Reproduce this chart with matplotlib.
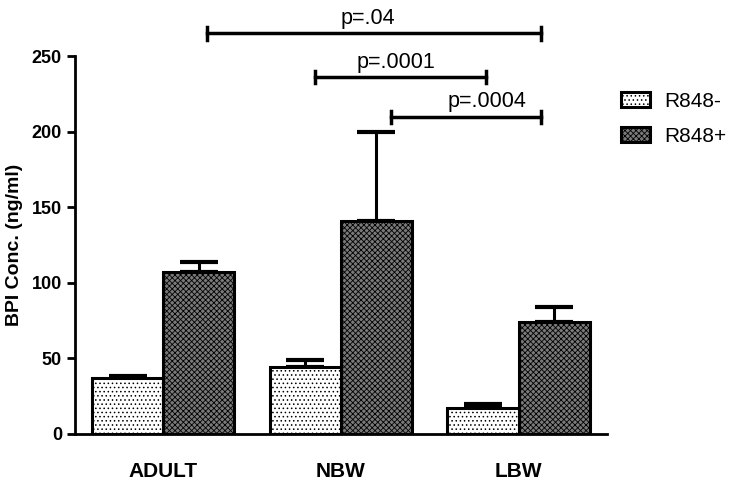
import numpy as np
import matplotlib
matplotlib.use("Agg")
import matplotlib.pyplot as plt

plt.rcParams['font.family'] = ['Liberation Sans', 'DejaVu Sans']
plt.rcParams['hatch.linewidth'] = 0.6

groups = ["ADULT", "NBW", "LBW"]
neg_vals = [37, 44, 17]
neg_err = [1.5, 5, 3]
pos_vals = [107, 141, 74]
pos_err = [7, 59, 10]
series = ["R848-", "R848+"]

# comparisons: (x start, x end, y, label x, label) in data units
comparisons = [(0.62, 5.31, 265, 2.88, "p=.04"),
               (2.13, 4.54, 236, 3.27, "p=.0001"),
               (3.21, 5.31, 210, 4.56, "p=.0004")]

fig = plt.figure(figsize=(7.3, 4.8), dpi=100)
ax = fig.add_axes([0.103, 0.096, 0.729, 0.787])

centers = np.array([0, 2.5, 5.0])
w = 1.0
ax.bar(centers - w/2, neg_vals, width=w, color='white', edgecolor='black',
       linewidth=2.2, hatch='....', label=series[0], zorder=2)
ax.bar(centers + w/2, pos_vals, width=w, color='#7a7a7a', edgecolor='black',
       linewidth=2.2, hatch='xxxxxx', label=series[1], zorder=2)
ax.errorbar(centers - w/2, neg_vals, yerr=[np.zeros(3), neg_err], fmt='none',
            ecolor='black', elinewidth=2.2, capsize=14, capthick=3, zorder=1)
ax.errorbar(centers + w/2, pos_vals, yerr=[np.zeros(3), pos_err], fmt='none',
            ecolor='black', elinewidth=2.2, capsize=14, capthick=3, zorder=1)

for x0, x1, y, tx, lab in comparisons:
    ax.plot([x0, x1], [y, y], color='black', lw=2.5, clip_on=False)
    for xx in (x0, x1):
        ax.plot([xx, xx], [y - 4, y + 4], color='black', lw=2.5, clip_on=False)
    ax.text(tx, y + 3, lab, ha='center', va='bottom', fontsize=15.5,
            clip_on=False)

ax.set_xlim(-1.24, 6.25)
ax.set_ylim(0, 250)
ax.set_yticks([0, 50, 100, 150, 200, 250])
ax.set_xticks(centers)
ax.set_xticklabels(groups, fontweight='bold', fontsize=15)
ax.tick_params(axis='x', length=0, pad=20)
ax.tick_params(axis='y', width=2, length=6, labelsize=13)
for t in ax.get_yticklabels():
    t.set_fontweight('bold')
ax.set_ylabel("BPI Conc. (ng/ml)", fontweight='bold', fontsize=14, labelpad=6)
ax.spines['top'].set_visible(False)
ax.spines['right'].set_visible(False)
ax.spines['left'].set_linewidth(2)
ax.spines['bottom'].set_linewidth(2)

ax.legend(loc='upper left', bbox_to_anchor=(0.99, 0.955), frameon=False,
          fontsize=15, handlelength=1.4, handleheight=0.7, labelspacing=0.75,
          handletextpad=0.7)

fig.savefig("out.png", dpi=100)
